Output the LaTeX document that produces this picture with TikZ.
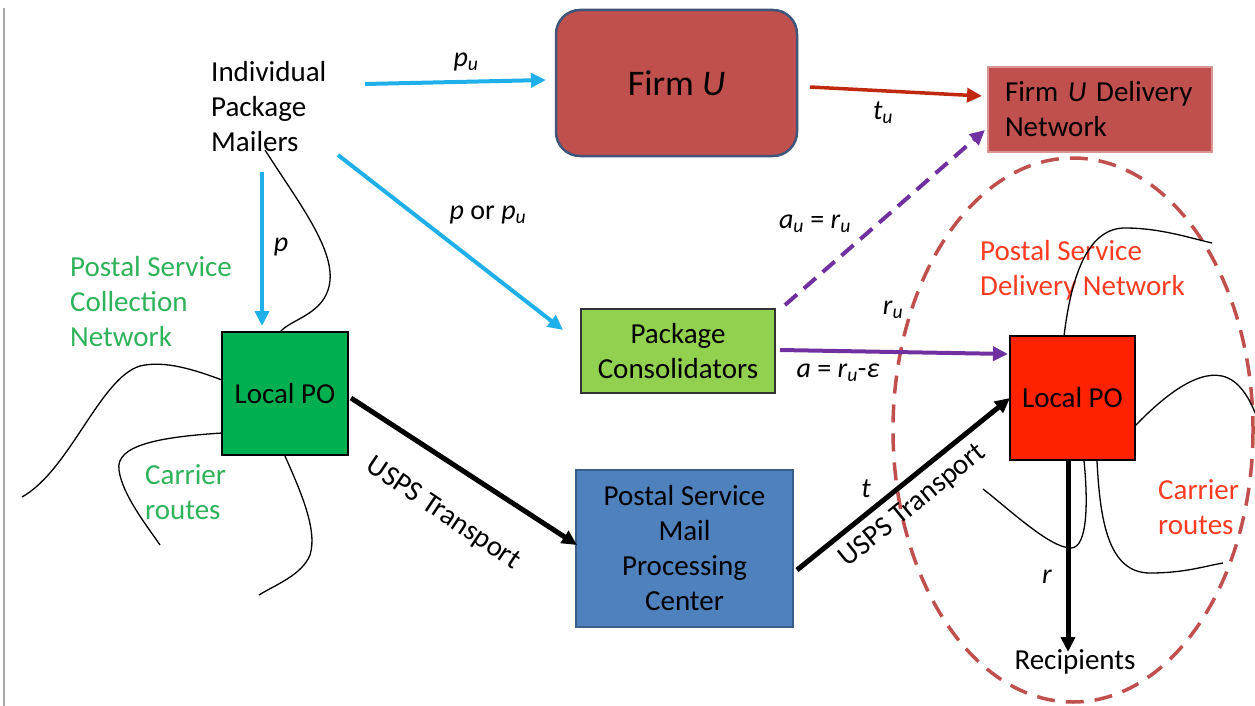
\documentclass[tikz,border=0pt]{standalone}
\usepackage{fontspec}
\setmainfont{Carlito}
\usetikzlibrary{arrows.meta,shapes.geometric}
\definecolor{cyanA}{HTML}{1FB0EA}
\definecolor{firmred}{HTML}{C0504D}
\definecolor{firmborder}{HTML}{41557A}
\definecolor{firmlight}{HTML}{D99694}
\definecolor{darkredA}{HTML}{C0280F}
\definecolor{purp}{HTML}{7030A0}
\definecolor{pogreen}{HTML}{00B050}
\definecolor{txtgreen}{HTML}{2EB35A}
\definecolor{lgreen}{HTML}{92D050}
\definecolor{pblue}{HTML}{4F81BD}
\definecolor{pblueb}{HTML}{385D8A}
\definecolor{pored}{HTML}{FF2200}
\definecolor{txtred}{HTML}{FF3B22}
\definecolor{ellc}{HTML}{C0504D}
\newcommand{\sbs}[1]{\textsubscript{\itshape #1}}
\begin{document}
\begin{tikzpicture}[x=1pt,y=-1pt,
  txt/.style={font=\fontsize{29}{35}\selectfont, inner sep=0pt, align=left},
  lbl/.style={font=\fontsize{28}{34}\selectfont, inner sep=0pt},
  box/.style={draw, line width=1.5pt, inner sep=0pt, align=center, font=\fontsize{29}{35}\selectfont},
  tip/.style={-{Triangle[length=15pt,width=14pt]}},
  bluearr/.style={tip, line width=4pt, draw=cyanA, cyanA},
  blackarr/.style={tip, line width=5pt, black},
  purparr/.style={tip, line width=4pt, draw=purp, purp},
  route/.style={line width=1.3pt, black},
]
\useasboundingbox (0,0) rectangle (1255,706);
\draw[gray!70, line width=1.5pt] (4,8) -- (4,706);

% dashed ellipse
\draw[ellc, line width=3.5pt, dash pattern=on 18pt off 11pt] (1073,430) ellipse [x radius=180, y radius=272];

% boxes
\node[box, draw=firmborder, line width=2.5pt, fill=firmred, rounded corners=24pt,
      minimum width=241, minimum height=146, font=\fontsize{36}{42}\selectfont] (firmU) at (676.5,83) {Firm \textit{U}};
\node[box, draw=firmlight, fill=firmred, minimum width=224, minimum height=85,
      text width=190, align=left] (fudn) at (1100,109.5) {Firm \textit{U} Delivery\\Network};
\node[box, draw=black!80, fill=lgreen, minimum width=194, minimum height=84] (cons) at (678,351) {Package\\Consolidators};
\node[box, draw=pblueb, fill=pblue, minimum width=217, minimum height=157] (pspc) at (684.5,548.5) {Postal Service\\Mail\\Processing\\Center};
\node[box, fill=pogreen, minimum width=126, minimum height=123] (lpoL) at (285,393.5) {Local PO};
\node[box, fill=pored, minimum width=125, minimum height=124] (lpoR) at (1072.5,398) {Local PO};

% text nodes
\node[txt, anchor=west] (mailers) at (211,107) {Individual\\Package\\Mailers};
\node[txt, anchor=west, txtgreen] (pscn) at (70,302) {Postal Service\\Collection\\Network};
\node[txt, anchor=west, txtgreen] (crL) at (145,492) {Carrier\\routes};
\node[txt, anchor=west, txtred] (psdn) at (980,270) {Postal Service\\Delivery Network};
\node[txt, anchor=west, txtred] (crR) at (1158,507) {Carrier\\routes};
\node[txt] (recip) at (1075,662) {Recipients};

% labels
\node[lbl] (lpu) at (466,62) {\textit{p}\sbs{u}};
\node[lbl] (ltu) at (883,113) {\textit{t}\sbs{u}};
\node[lbl] (lpor) at (488,215) {\textit{p} or \textit{p}\sbs{u}};
\node[lbl] (lp) at (281,247) {\textit{p}};
\node[lbl] (laueq) at (815,224) {\textit{a}\sbs{u} = \textit{r}\sbs{u}};
\node[lbl] (lru) at (893,310) {\textit{r}\sbs{u}};
\node[lbl] (laeq) at (838,373) {\textit{a} = \textit{r}\sbs{u}-\textit{ε}};
\node[lbl] (lt) at (866,489) {\textit{t}};
\node[lbl] (lr) at (1047,577) {\textit{r}};
\node[txt, rotate=-34] (usps1) at (443,514) {USPS Transport};
\node[txt, rotate=39] (usps2) at (913,506) {USPS Transport};

% coordinates for connector ends
\coordinate (puA) at (365,84);
\coordinate (puB) at (546,80);
\coordinate (mcA) at (338,155);
\coordinate (mcB) at (563,330);
\coordinate (pA) at (262,172);
\coordinate (pB) at (262,326);
\coordinate (tuA) at (810,87);
\coordinate (tuB) at (982,96);
\coordinate (u1A) at (351,398);
\coordinate (u1B) at (577,545);
\coordinate (u2A) at (797,570);
\coordinate (u2B) at (1010,398);
\coordinate (pdA) at (785,305);
\coordinate (pdB) at (985,130);
\coordinate (psA) at (780,350);
\coordinate (psB) at (1008,354);
\coordinate (rA) at (1068,461);
\coordinate (rB) at (1068,652);

% connectors
\draw[bluearr] (puA) -- (puB);
\draw[bluearr] (mcA) -- (mcB);
\draw[bluearr] (pA) -- (pB);
\draw[tip, line width=3.5pt, darkredA] (tuA) -- (tuB);
\draw[blackarr] (u1A) -- (u1B);
\draw[blackarr] (u2A) -- (u2B);
\draw[purparr, dash pattern=on 16pt off 9pt] (pdA) -- (pdB);
\draw[purparr] (psA) -- (psB);
\draw[blackarr] (rA) -- (rB);

% route curves left
\draw[route] (265,150) .. controls (300,205) and (340,255) .. (328,290) .. controls (320,315) and (290,320) .. (280,332);
\draw[route] (222,380) .. controls (195,370) and (165,360) .. (140,366) .. controls (100,378) and (70,470) .. (22,497);
\draw[route] (222,433) .. controls (160,437) and (115,445) .. (119,470) .. controls (122,495) and (150,530) .. (160,545);
\draw[route] (285,456) .. controls (300,490) and (318,530) .. (310,555) .. controls (302,575) and (275,585) .. (259,595);

% route curves right
\draw[route] (1064,336) .. controls (1072,270) and (1090,228) .. (1125,228) .. controls (1160,228) and (1190,238) .. (1212,243);
\draw[route] (1135,426) .. controls (1160,400) and (1195,370) .. (1222,376) .. controls (1240,380) and (1250,400) .. (1256,415);
\draw[route] (1084,461) .. controls (1088,500) and (1088,548) .. (1071,548) .. controls (1050,548) and (1010,510) .. (983,489);
\draw[route] (1097,461) .. controls (1100,520) and (1108,573) .. (1150,573) .. controls (1185,573) and (1205,566) .. (1223,563);
\end{tikzpicture}
\end{document}
